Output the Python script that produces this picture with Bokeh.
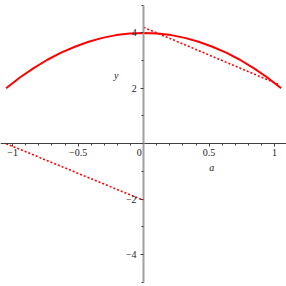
from bokeh.plotting import figure
from bokeh.models import LinearAxis, FixedTicker, Range1d
from bokeh.core.properties import value
from bokeh.embed import file_html
from bokeh.resources import INLINE

# solid curve
a_curve = [-1.05, -0.945, -0.84, -0.735, -0.63, -0.525, -0.42, -0.315, -0.21, -0.105, 0.0,
           0.105, 0.21, 0.315, 0.42, 0.525, 0.63, 0.735, 0.84, 0.945, 1.05]
y_curve = [2.00, 2.39, 2.73, 3.03, 3.29, 3.50, 3.68, 3.82, 3.92, 3.98, 4.00,
           3.98, 3.92, 3.82, 3.68, 3.50, 3.29, 3.03, 2.73, 2.39, 2.00]

# dotted segments
a_dot_left = [-1.05, 0.0]
y_dot_left = [0.0, -2.05]
a_dot_right = [0.0, 1.04]
y_dot_right = [4.2, 2.12]

x_major = [-1.0, -0.5, 0.0, 0.5, 1.0]
x_major_labels = ["\u22121", "\u22120.5", "", "0.5", "1"]
x_minor = [-1.0, -0.9, -0.8, -0.7, -0.6, -0.5, -0.4, -0.3, -0.2, -0.1, 0.0,
           0.1, 0.2, 0.3, 0.4, 0.5, 0.6, 0.7, 0.8, 0.9, 1.0]
y_major = [-4, -2, 0, 2, 4]
y_major_labels = ["\u22124", "\u22122", "", "2", "4"]
y_minor = [-5, -3, -1, 1, 3, 5]

FONT = "Liberation Serif"
RED = "#ff0000"

p = figure(width=286, height=286, output_backend="svg", toolbar_location=None,
           x_axis_location=None, y_axis_location=None,
           x_range=Range1d(-1.093, 1.091), y_range=Range1d(-5.16, 5.17),
           min_border=0, min_border_left=0, min_border_right=0,
           min_border_top=0, min_border_bottom=0)
p.outline_line_color = None
p.grid.visible = False
p.background_fill_color = "white"

xa = LinearAxis(fixed_location=0)
xa.ticker = FixedTicker(ticks=x_major, minor_ticks=x_minor)
xa.major_label_overrides = {float(t): l for t, l in zip(x_major, x_major_labels)}
xa.axis_line_color = "#404040"
xa.axis_line_width = 1
xa.major_tick_line_color = "#404040"
xa.minor_tick_line_color = "#404040"
xa.major_tick_out = 3
xa.major_tick_in = 0
xa.minor_tick_out = 2
xa.minor_tick_in = 0
xa.major_label_text_font = FONT
xa.major_label_text_font_size = "10px"
xa.major_label_text_color = "#222222"
xa.major_label_standoff = 2
p.add_layout(xa, "below")

ya = LinearAxis(fixed_location=0, bounds=(-5, 5))
ya.ticker = FixedTicker(ticks=y_major, minor_ticks=y_minor)
ya.major_label_overrides = {t: l for t, l in zip(y_major, y_major_labels)}
ya.axis_line_color = "#a0a0a0"
ya.axis_line_width = 2
ya.major_tick_line_color = "#404040"
ya.minor_tick_line_color = "#404040"
ya.major_tick_out = 3
ya.major_tick_in = 0
ya.minor_tick_out = 2
ya.minor_tick_in = 0
ya.major_label_text_font = FONT
ya.major_label_text_font_size = "10px"
ya.major_label_text_color = "#222222"
ya.major_label_standoff = 4
p.add_layout(ya, "left")

p.line(a_curve, y_curve, line_color=RED, line_width=2)
p.line(a_dot_left, y_dot_left, line_color=RED, line_width=1.6, line_dash="2 2")
p.line(a_dot_right, y_dot_right, line_color=RED, line_width=1.6, line_dash="2 2")

# origin label and axis titles
p.text(x=[0.0], y=[0.0], text=["0"], text_font=value(FONT), text_font_size="10px",
       text_color="#222222", text_align="right", text_baseline="top", x_offset=-2, y_offset=5)
p.text(x=[0.52], y=[-0.86], text=["a"], text_font=value(FONT), text_font_size="10px",
       text_font_style="italic", text_color="#222222", text_align="center", text_baseline="middle")
p.text(x=[-0.21], y=[2.46], text=["y"], text_font=value(FONT), text_font_size="10px",
       text_font_style="italic", text_color="#222222", text_align="center", text_baseline="middle")

open("out.html", "w").write(file_html(p, INLINE))
